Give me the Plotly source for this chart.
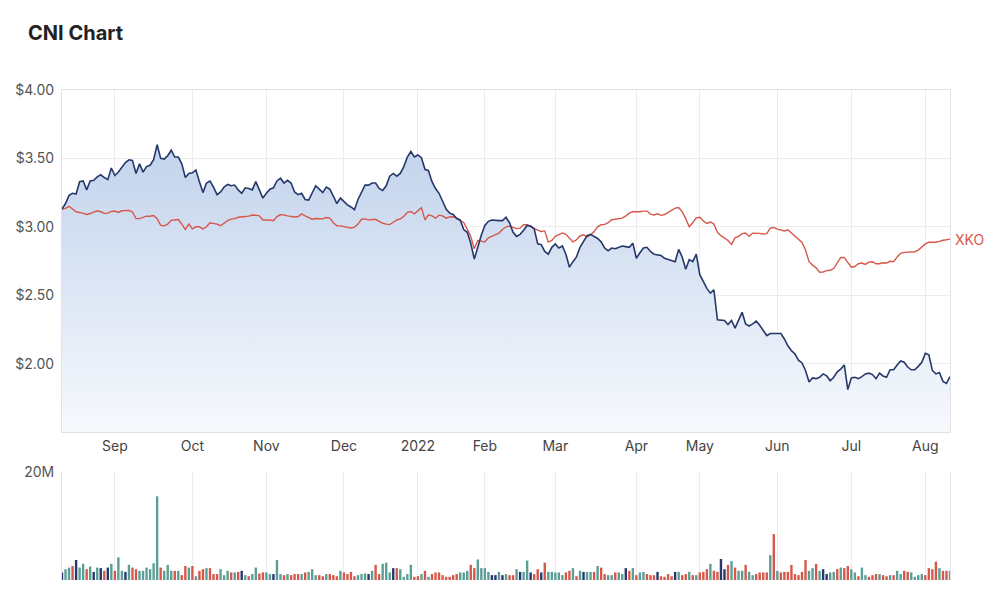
import pandas as pd
import plotly.graph_objects as go

# ---------------- data ----------------
holidays = ["2021-12-27", "2021-12-28", "2022-01-03", "2022-01-26",
            "2022-04-15", "2022-04-18", "2022-04-25", "2022-06-13"]
trading_days = pd.bdate_range("2021-08-11", "2022-08-10")
trading_days = trading_days[~trading_days.isin(pd.to_datetime(holidays))]
dates = trading_days + pd.Timedelta(hours=12)

cni = [
    3.13, 3.17, 3.23, 3.245, 3.24, 3.33, 3.335, 3.27, 3.335, 3.34,
    3.365, 3.38, 3.36, 3.345, 3.43, 3.375, 3.40, 3.44, 3.47, 3.49,
    3.485, 3.39, 3.46, 3.40, 3.44, 3.45, 3.49, 3.60, 3.50, 3.495,
    3.52, 3.56, 3.51, 3.51, 3.46, 3.36, 3.39, 3.395, 3.415, 3.33,
    3.25, 3.32, 3.335, 3.29, 3.235, 3.255, 3.29, 3.31, 3.30, 3.305,
    3.27, 3.245, 3.285, 3.28, 3.27, 3.33, 3.27, 3.21, 3.245, 3.275,
    3.285, 3.335, 3.355, 3.32, 3.34, 3.32, 3.255, 3.235, 3.245, 3.20,
    3.195, 3.25, 3.30, 3.275, 3.25, 3.29, 3.275, 3.225, 3.17, 3.21,
    3.185, 3.16, 3.145, 3.125, 3.20, 3.25, 3.305, 3.305, 3.32, 3.32,
    3.28, 3.265, 3.30, 3.37, 3.39, 3.37, 3.39, 3.44, 3.51, 3.55,
    3.51, 3.525, 3.505, 3.42, 3.41, 3.33, 3.28, 3.245, 3.185, 3.13,
    3.10, 3.09, 3.06, 3.05, 2.98, 2.96, 2.88, 2.765, 2.85, 2.94,
    3.01, 3.04, 3.05, 3.045, 3.045, 3.045, 3.07, 3.03, 2.96, 2.93,
    2.945, 2.975, 3.01, 3.005, 2.985, 2.875, 2.87, 2.82, 2.80, 2.85,
    2.875, 2.845, 2.86, 2.80, 2.705, 2.745, 2.78, 2.85, 2.895, 2.935,
    2.945, 2.93, 2.915, 2.89, 2.845, 2.825, 2.845, 2.84, 2.85, 2.86,
    2.855, 2.85, 2.88, 2.77, 2.81, 2.845, 2.85, 2.82, 2.80, 2.795,
    2.79, 2.77, 2.76, 2.75, 2.745, 2.835, 2.78, 2.69, 2.76, 2.745,
    2.80, 2.65, 2.60, 2.55, 2.515, 2.54, 2.32, 2.32, 2.315, 2.285,
    2.315, 2.26, 2.32, 2.375, 2.29, 2.275, 2.29, 2.31, 2.28, 2.245,
    2.205, 2.22, 2.22, 2.215, 2.22, 2.18, 2.13, 2.095, 2.07, 2.025,
    2.005, 1.95, 1.865, 1.895, 1.89, 1.90, 1.925, 1.91, 1.875, 1.90,
    1.94, 1.96, 1.99, 1.81, 1.895, 1.90, 1.89, 1.905, 1.925, 1.93,
    1.92, 1.89, 1.93, 1.91, 1.90, 1.955, 1.955, 1.99, 2.02, 2.01,
    1.975, 1.955, 1.955, 1.98, 2.01, 2.075, 2.065, 1.95, 1.925, 1.935,
    1.87, 1.855, 1.905,
]

xko = [
    3.13, 3.135, 3.15, 3.13, 3.11, 3.105, 3.095, 3.09, 3.097, 3.105,
    3.117, 3.11, 3.098, 3.10, 3.112, 3.115, 3.105, 3.117, 3.12, 3.12,
    3.108, 3.06, 3.06, 3.072, 3.078, 3.077, 3.082, 3.06, 3.01, 3.007,
    3.02, 3.047, 3.048, 3.053, 3.02, 2.98, 3.02, 2.985, 3.00, 3.00,
    2.985, 3.00, 3.03, 3.027, 3.02, 3.008, 3.027, 3.045, 3.056, 3.06,
    3.07, 3.075, 3.075, 3.078, 3.086, 3.085, 3.08, 3.05, 3.052, 3.05,
    3.045, 3.075, 3.088, 3.087, 3.08, 3.075, 3.072, 3.075, 3.094, 3.08,
    3.065, 3.056, 3.061, 3.057, 3.058, 3.068, 3.064, 3.03, 3.007, 3.007,
    3.00, 2.995, 2.991, 2.997, 3.02, 3.055, 3.058, 3.051, 3.053, 3.055,
    3.04, 3.026, 3.02, 3.016, 3.033, 3.05, 3.058, 3.075, 3.105, 3.112,
    3.095, 3.12, 3.14, 3.051, 3.088, 3.08, 3.063, 3.085, 3.08, 3.063,
    3.072, 3.073, 3.065, 3.045, 3.032, 2.983, 2.93, 2.84, 2.90, 2.895,
    2.89, 2.92, 2.932, 2.94, 2.954, 2.98, 3.00, 3.005, 2.995, 2.987,
    2.99, 3.015, 3.015, 3.00, 2.987, 2.975, 2.966, 2.97, 2.888, 2.90,
    2.93, 2.94, 2.955, 2.945, 2.92, 2.89, 2.905, 2.933, 2.942, 2.926,
    2.94, 2.965, 3.00, 3.015, 3.018, 3.03, 3.052, 3.057, 3.06, 3.063,
    3.08, 3.10, 3.11, 3.108, 3.11, 3.115, 3.115, 3.093, 3.087, 3.095,
    3.084, 3.09, 3.104, 3.12, 3.137, 3.141, 3.11, 3.06, 3.00, 3.03,
    3.065, 3.07, 3.042, 3.025, 3.035, 3.02, 2.96, 2.935, 2.917, 2.90,
    2.87, 2.92, 2.93, 2.95, 2.955, 2.93, 2.954, 2.954, 2.952, 2.947,
    2.95, 2.99, 2.995, 2.983, 2.975, 2.97, 2.978, 2.955, 2.932, 2.91,
    2.885, 2.83, 2.745, 2.72, 2.70, 2.668, 2.67, 2.68, 2.682, 2.695,
    2.735, 2.776, 2.775, 2.735, 2.705, 2.71, 2.73, 2.735, 2.725, 2.742,
    2.745, 2.73, 2.73, 2.737, 2.735, 2.748, 2.745, 2.78, 2.806, 2.813,
    2.813, 2.815, 2.818, 2.83, 2.855, 2.875, 2.887, 2.887, 2.887, 2.893,
    2.902, 2.905, 2.91,
]

volume_m = [
    1.4, 2.0, 2.3, 2.6, 3.7, 2.3, 3.0, 2.0, 2.5, 1.5,
    2.3, 2.2, 1.7, 2.3, 3.0, 1.7, 4.2, 1.7, 1.5, 2.8,
    2.3, 2.0, 1.7, 1.7, 2.3, 2.0, 3.1, 15.5, 2.3, 1.7,
    2.8, 1.7, 1.7, 1.7, 0.9, 2.6, 2.3, 2.6, 0.7, 1.7,
    2.0, 2.2, 2.2, 1.1, 1.1, 2.0, 0.9, 1.7, 1.4, 1.4,
    1.5, 1.7, 0.9, 0.7, 1.1, 2.3, 1.2, 1.4, 1.4, 1.1,
    1.1, 3.7, 1.1, 0.9, 1.1, 0.9, 1.1, 1.1, 1.1, 1.4,
    1.5, 2.0, 0.9, 0.9, 0.7, 1.1, 1.1, 0.9, 0.7, 1.7,
    1.4, 1.1, 1.5, 0.7, 0.9, 1.1, 1.2, 1.1, 1.7, 2.8,
    1.1, 3.0, 3.2, 1.4, 2.2, 2.2, 2.0, 0.6, 1.1, 2.8,
    0.6, 0.7, 1.1, 1.7, 0.6, 1.1, 1.4, 1.4, 0.9, 0.6,
    0.6, 0.9, 1.1, 1.4, 1.4, 1.7, 2.8, 2.2, 3.8, 2.2,
    2.2, 1.5, 0.9, 0.9, 1.5, 0.9, 1.1, 0.9, 0.9, 2.0,
    1.5, 1.5, 3.6, 1.4, 1.1, 2.0, 1.4, 3.2, 1.5, 1.5,
    1.4, 1.4, 0.9, 1.4, 1.7, 2.2, 0.7, 1.7, 1.5, 1.5,
    1.5, 1.5, 2.6, 2.3, 1.1, 0.9, 0.9, 1.4, 1.4, 1.1,
    2.2, 1.7, 2.2, 0.9, 1.4, 1.5, 1.1, 0.9, 0.9, 1.5,
    0.7, 0.6, 1.1, 0.7, 1.5, 1.5, 0.9, 1.1, 1.5, 0.9,
    0.9, 1.4, 1.5, 2.0, 3.0, 1.7, 1.5, 3.9, 2.0, 2.8,
    3.5, 2.3, 1.7, 1.7, 2.8, 1.5, 0.9, 1.1, 1.4, 1.4,
    1.4, 4.6, 8.5, 1.7, 1.4, 1.5, 1.5, 2.8, 1.1, 0.9,
    1.5, 3.7, 1.7, 2.2, 3.0, 1.7, 2.0, 1.1, 1.4, 1.5,
    2.0, 2.3, 2.2, 2.6, 2.0, 1.4, 0.7, 2.3, 0.9, 0.6,
    0.9, 1.1, 1.1, 0.9, 0.7, 0.9, 0.9, 1.7, 1.1, 1.7,
    1.5, 1.4, 0.6, 0.9, 1.1, 0.9, 2.2, 2.0, 3.4, 2.2,
    1.7, 1.7, 1.7,
]

# day direction: u = up, d = down, n = unchanged
direction = (
    "nuudnuudun" "undnuduunu" "dduuuuuudu" "uududdudud" "duddduuudu"
    "dnuduudduu" "nuududddud" "uuuddudddu" "dddduuunud" "duuunduuuu"
    "ddududdddd" "ddduuudduu" "uunnunuddu" "nuunddnduu" "uuuddudunu"
    "ududduuduu" "nduduudddn" "ddddnuddud" "uddduddnnd" "uduuduuddd"
    "dududddddd" "dduudunnuu" "dudduuduud" "ddudduduud" "duuuuddddu"
    "ddu"
)

price_ticks = [2.0, 2.5, 3.0, 3.5, 4.0]
price_tick_text = [f"${v:.2f}" for v in price_ticks]

assert len(dates) == len(cni) == len(xko) == len(volume_m) == len(direction), (
    len(dates), len(cni), len(xko), len(volume_m), len(direction))

# month ticks at first trading day of each month
month_first = pd.Series(dates).groupby(dates.to_period("M")).first()
month_first = month_first[month_first.index > pd.Period("2021-08", "M")]
tick_vals = list(month_first.values)
tick_text = [d.strftime("%Y") if d.month == 1 else d.strftime("%b")
             for d in pd.to_datetime(month_first.values)]

# ---------------- style ----------------
NAVY = "#26386b"
RED = "#d5584a"
TEAL = "#5b9e95"
GRID = "#ececec"
FRAME = "#e2e2e2"
FONT = "Inter, Roboto, Arial, sans-serif"
dir_colors = {"u": TEAL, "d": RED, "n": NAVY}
bar_colors = [dir_colors[c] for c in direction]

fig = go.Figure()

fig.add_trace(go.Scatter(
    x=dates, y=cni, mode="lines", line=dict(width=0, color=NAVY),
    fill="tozeroy",
    fillgradient=dict(type="vertical",
                      colorscale=[[0, "rgb(247,249,253)"], [1, "rgb(194,211,236)"]],
                      start=1.5, stop=3.6),
    hoverinfo="skip", showlegend=False, xaxis="x", yaxis="y"))

fig.add_trace(go.Scatter(
    x=dates, y=xko, mode="lines", line=dict(width=1.4, color=RED),
    name="XKO", showlegend=False, xaxis="x", yaxis="y"))

fig.add_trace(go.Scatter(
    x=dates, y=cni, mode="lines", line=dict(width=1.6, color=NAVY),
    name="CNI", showlegend=False, xaxis="x", yaxis="y"))

fig.add_trace(go.Bar(
    x=dates, y=[v * 1e6 for v in volume_m], marker=dict(color=bar_colors, line=dict(width=0)),
    name="Volume", showlegend=False, xaxis="x2", yaxis="y2"))

fig.add_annotation(x=dates[-1], y=xko[-1], xref="x", yref="y", text="XKO",
                   showarrow=False, xanchor="left", yanchor="middle", xshift=3,
                   font=dict(family=FONT, size=14, color=RED))

rangebreaks = [dict(bounds=["sat", "mon"]), dict(values=holidays)]
x_common = dict(
    type="date", range=[dates[0], dates[-1]], rangebreaks=rangebreaks,
    tickmode="array", tickvals=tick_vals, ticktext=tick_text,
    showgrid=True, gridcolor=GRID, gridwidth=1, zeroline=False,
    ticks="", tickfont=dict(family=FONT, size=14, color="#444"),
)

fig.update_layout(
    width=1000, height=597,
    margin=dict(l=62, r=50, t=90, b=17),
    paper_bgcolor="white", plot_bgcolor="white",
    font=dict(family=FONT, size=14, color="#555"),
    title=dict(text="<b>CNI Chart</b>", x=0.028, xanchor="left",
               y=1 - 33 / 597, yanchor="middle", xref="container", yref="container",
               font=dict(family=FONT, size=20, color="#222")),
    bargap=0.32,
    xaxis=dict(**x_common, anchor="y", domain=[0, 1], showticklabels=True,
               showline=True, linecolor=FRAME, mirror=True, ticklabelstandoff=1),
    xaxis2=dict(**x_common, anchor="y2", domain=[0, 1], matches="x",
                showticklabels=False, showline=False),
    yaxis=dict(domain=[0.302, 1.0], range=[1.5, 4.0], tickmode="array",
               tickvals=price_ticks, ticktext=price_tick_text,
               showgrid=True, gridcolor=GRID,
               zeroline=False, showline=True, linecolor=FRAME, mirror=True,
               ticks="", ticklabelstandoff=4,
               tickfont=dict(family=FONT, size=14, color="#555")),
    yaxis2=dict(domain=[0, 0.2204], range=[0, 20e6], tickmode="array",
                tickvals=[20e6], ticktext=["20M"],
                showgrid=True, gridcolor=GRID, zeroline=False, showline=True,
                linecolor=FRAME, mirror=True, ticks="", ticklabelstandoff=4,
                tickfont=dict(family=FONT, size=14, color="#555")),
    hovermode=False,
)

fig.write_html("out.html")
